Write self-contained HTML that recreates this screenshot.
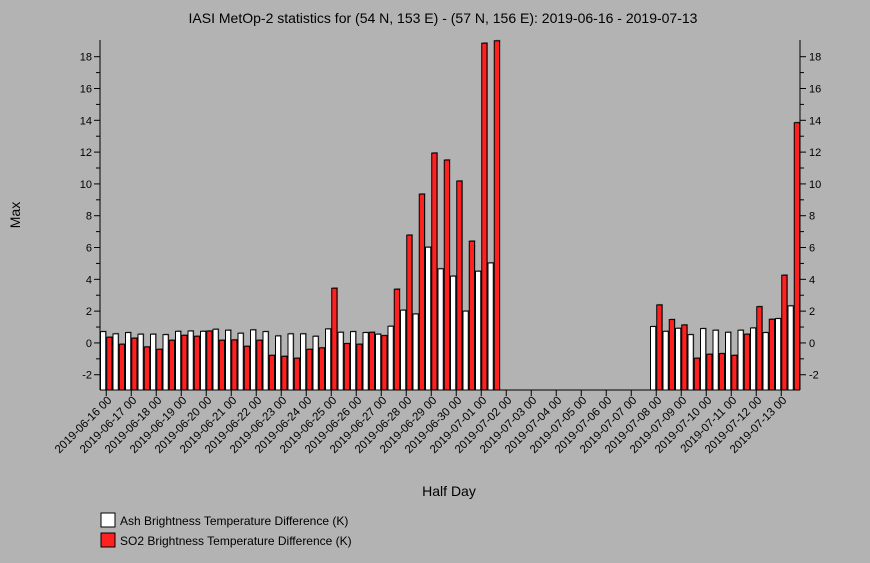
<!DOCTYPE html>
<html><head><meta charset="utf-8"><style>
body{margin:0;background:#b3b3b3;}
svg{display:block;font-family:"Liberation Sans",sans-serif;}
</style></head><body>
<svg id="chart" width="870" height="563" xmlns="http://www.w3.org/2000/svg">
<rect x="0" y="0" width="870" height="563" fill="#b3b3b3"/>
<text x="443" y="23" font-size="14" text-anchor="middle" fill="#000">IASI MetOp-2 statistics for (54 N, 153 E) - (57 N, 156 E): 2019-06-16 - 2019-07-13</text>
<text x="20" y="215" font-size="14" text-anchor="middle" transform="rotate(-90 20 215)">Max</text>
<text x="449" y="496" font-size="14" text-anchor="middle">Half Day</text>
<g id="bars"></g>
<g id="axes"></g>
<g>
<rect x="101" y="513" width="14" height="14" fill="#fff" stroke="#000"/>
<text x="120" y="525" font-size="12">Ash Brightness Temperature Difference (K)</text>
<rect x="101" y="533" width="14" height="14" fill="#ff2020" stroke="#000"/>
<text x="120" y="545" font-size="12">SO2 Brightness Temperature Difference (K)</text>
</g>
</svg>
<script>
const dayLabels = ["2019-06-16 00","2019-06-17 00","2019-06-18 00","2019-06-19 00","2019-06-20 00","2019-06-21 00","2019-06-22 00","2019-06-23 00","2019-06-24 00","2019-06-25 00","2019-06-26 00","2019-06-27 00","2019-06-28 00","2019-06-29 00","2019-06-30 00","2019-07-01 00","2019-07-02 00","2019-07-03 00","2019-07-04 00","2019-07-05 00","2019-07-06 00","2019-07-07 00","2019-07-08 00","2019-07-09 00","2019-07-10 00","2019-07-11 00","2019-07-12 00","2019-07-13 00"];
const yTicks = [-2,0,2,4,6,8,10,12,14,16,18];
const N = null;
const ash = [0.71,0.57,0.65,0.55,0.55,0.52,0.73,0.75,0.73,0.86,0.8,0.61,0.82,0.71,0.44,0.57,0.57,0.42,0.88,0.67,0.71,0.65,0.55,1.05,2.06,1.82,6.02,4.66,4.2,2.0,4.51,5.03,N,N,N,N,N,N,N,N,N,N,N,N,1.03,0.73,0.92,0.52,0.9,0.8,0.67,0.8,0.94,0.65,1.53,2.33];
const so2 = [0.36,-0.08,0.3,-0.25,-0.4,0.17,0.48,0.42,0.75,0.17,0.19,-0.21,0.17,-0.78,-0.84,-0.96,-0.4,-0.31,3.44,-0.04,-0.08,0.67,0.46,3.38,6.78,9.36,11.94,11.5,10.18,6.4,18.85,19.0,N,N,N,N,N,N,N,N,N,N,N,N,2.39,1.47,1.13,-0.96,-0.71,-0.67,-0.78,0.55,2.28,1.49,4.26,13.85];
const NS="http://www.w3.org/2000/svg";
const L=100,R=800,T=40,B=390,yMin=-2.96,yMax=19.05;
const slot=(R-L)/ash.length;
const y=v=>B-(v-yMin)/(yMax-yMin)*(B-T);
const xs=i=>L+i*slot;
function mk(tag,attrs,parent){const e=document.createElementNS(NS,tag);for(const k in attrs)e.setAttribute(k,attrs[k]);parent.appendChild(e);return e;}
const bars=document.getElementById('bars'),axes=document.getElementById('axes');
const bw=slot/2;
for(let i=0;i<ash.length;i++){
  [[ash,'#ffffff','ash',0],[so2,'#ff2020','so2',1]].forEach(([arr,col,nm,o])=>{
    const v=arr[i]; if(v===null)return;
    const top=Math.max(T,y(v));
    const sh=mk('rect',{x:xs(i)+o*bw+1.5,y:top-1,width:bw-1,height:B-top+1,fill:'#777'},bars);
    
    
    const r=mk('rect',{x:xs(i)+o*bw+0.5,y:top,width:bw-1,height:B-top,fill:col,stroke:'#000','stroke-width':1},bars);
    
    
  });
}
let ln=mk('line',{x1:L,y1:T,x2:L,y2:B,stroke:'#000'},axes);

ln=mk('line',{x1:R,y1:T,x2:R,y2:B,stroke:'#000'},axes);

ln=mk('line',{x1:L,y1:B,x2:R,y2:B,stroke:'#000'},axes);

for(let v=-2;v<=18;v++){
  const yy=y(v),maj=v%2===0;
  mk('line',{x1:L-(maj?6:4),y1:yy,x2:L,y2:yy,stroke:'#000'},axes);
  mk('line',{x1:R,y1:yy,x2:R+(maj?6:4),y2:yy,stroke:'#000'},axes);
}
yTicks.forEach(v=>{
  const yy=y(v);
  const t1=mk('text',{x:L-8,y:yy+4,'font-size':11,'text-anchor':'end'},axes);t1.textContent=v;
  
  const t2=mk('text',{x:R+9,y:yy+4,'font-size':11},axes);t2.textContent=v;
  
});
dayLabels.forEach((lab,d)=>{
  const xx=L+slot*(2*d)+slot/2;
  mk('line',{x1:xx,y1:B,x2:xx,y2:B+6,stroke:'#000'},axes);
  const t=mk('text',{x:xx+6,y:B+11,'font-size':11.5,'text-anchor':'end',transform:`rotate(-45 ${xx+6} ${B+11})`},axes);
  t.textContent=lab;
  
  
});
</script>
</body></html>
